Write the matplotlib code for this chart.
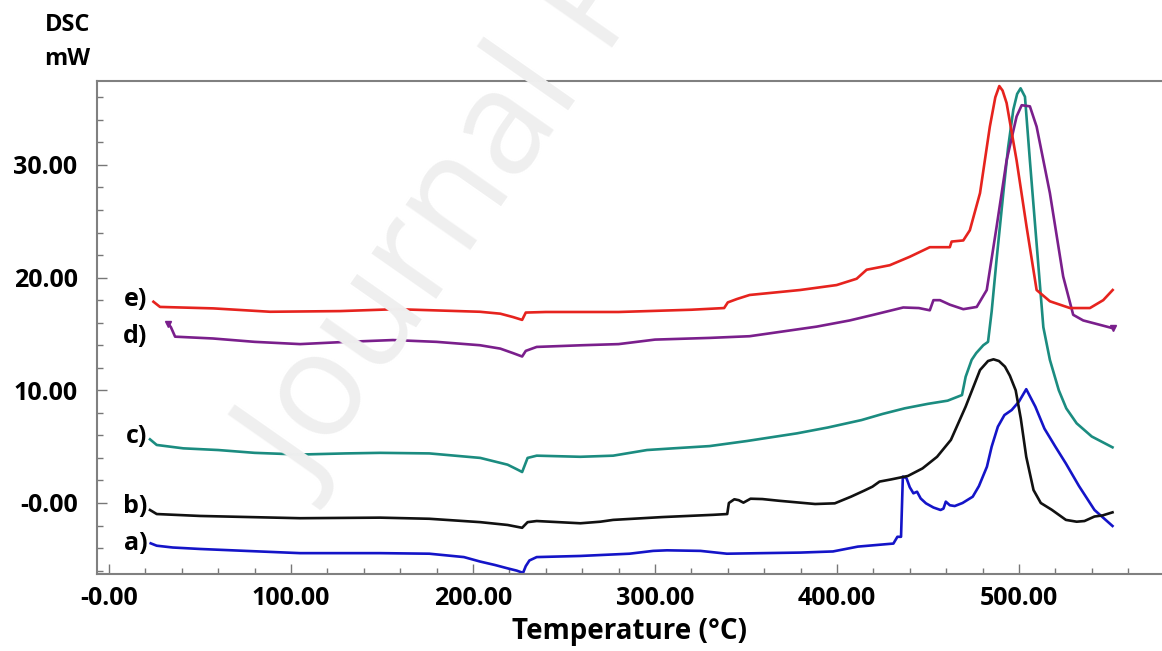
import matplotlib
matplotlib.use("Agg")
import matplotlib.pyplot as plt
from matplotlib.ticker import MultipleLocator

# --- data (temperature in degC, heat flow in mW) ---
temp_a = [22.9, 26.2, 35, 50, 75, 105, 130, 149, 176, 195, 204, 212, 219, 224, 227.5, 229, 231, 235,
          259, 286, 299, 306.6, 325, 339.5, 359, 380, 397.8, 411.5, 431, 433.2, 435.2, 436.2, 438.2,
          440, 442, 444, 446, 448.9, 453, 456.9, 458.5, 459.8, 462, 464.7, 469, 474.6, 478, 482.4,
          485, 488.4, 492, 496, 500, 504, 509, 514, 520, 525.8, 533, 541.5, 551.4]
dsc_a = [-3.58, -3.79, -3.95, -4.08, -4.25, -4.45, -4.45, -4.45, -4.5, -4.8, -5.2, -5.5, -5.8, -6.0,
         -6.2, -5.6, -5.1, -4.8, -4.7, -4.5, -4.25, -4.2, -4.25, -4.5, -4.45, -4.4, -4.3, -3.87, -3.6,
         -3.0, -3.0, 2.34, 2.2, 1.4, 0.86, 1.0, 0.4, -0.03, -0.4, -0.62, -0.5, 0.12, -0.2, -0.27, 0.0,
         0.56, 1.5, 3.22, 5.0, 6.77, 7.8, 8.25, 9.0, 10.1, 8.55, 6.6, 5.0, 3.5, 1.5, -0.62, -2.04]

temp_b = [22.5, 26.2, 50, 105, 149, 176, 204, 219, 227, 230, 235, 259, 270, 277, 304, 332, 339.7,
          340.6, 343.6, 346, 348.6, 352.5, 359, 368, 388, 398.8, 407.7, 415, 419.5, 423.4, 430, 439,
          447, 455, 462.6, 470.7, 478.6, 483, 486, 489, 492.3, 495, 498.2, 501, 504, 508, 512, 518,
          525.8, 531.7, 536, 541.5, 546, 551.4]
dsc_b = [-0.62, -0.98, -1.15, -1.35, -1.3, -1.4, -1.7, -1.95, -2.2, -1.7, -1.6, -1.8, -1.66, -1.5,
         -1.25, -1.05, -0.98, 0.0, 0.33, 0.25, 0.03, 0.38, 0.35, 0.2, -0.09, -0.03, 0.56, 1.1, 1.45,
         1.9, 2.1, 2.4, 3.07, 4.1, 5.6, 8.55, 11.8, 12.6, 12.75, 12.6, 12.1, 11.3, 10.0, 7.5, 4.1,
         1.15, 0.0, -0.6, -1.5, -1.66, -1.6, -1.2, -1.1, -0.83]

temp_c = [22.5, 26.2, 40.8, 60, 80, 105, 130, 149, 176, 204, 219, 224, 227, 230, 235, 259, 277,
          295.6, 310, 330, 350.5, 368.7, 378, 395, 413.5, 425, 437.2, 450, 460.8, 468.7, 470.7, 474,
          476.5, 480.4, 483, 485, 487.7, 491.4, 494, 496.9, 499, 500.9, 503.3, 506, 509.7, 513.4,
          517, 521.9, 526, 531.7, 540, 551.4]
dsc_c = [5.65, 5.15, 4.85, 4.7, 4.45, 4.3, 4.4, 4.45, 4.4, 4.0, 3.4, 3.0, 2.75, 4.0, 4.2, 4.1, 4.2,
         4.7, 4.85, 5.05, 5.5, 5.95, 6.18, 6.7, 7.36, 7.9, 8.4, 8.8, 9.08, 9.58, 11.2, 12.7, 13.3,
         14.0, 14.3, 17.0, 21.6, 27.5, 31.5, 34.9, 36.3, 36.8, 36.05, 30.4, 23.0, 15.6, 12.7, 10.0,
         8.4, 7.07, 5.9, 4.94]

temp_d = [32.6, 34, 36.3, 57, 80, 105, 130.6, 156, 180, 203.8, 215, 222, 227, 229, 235, 260, 280,
          300, 330, 352, 388.8, 407, 420, 436.4, 445, 451, 453, 456.6, 462, 469.4, 476.8, 482.3,
          487.7, 493.2, 498.7, 501.5, 506, 509.7, 517, 524.3, 529.8, 535.3, 551.8]
dsc_d = [15.9, 15.6, 14.76, 14.6, 14.3, 14.1, 14.3, 14.46, 14.3, 14.0, 13.7, 13.3, 13.0, 13.5, 13.85,
         14.0, 14.1, 14.5, 14.65, 14.8, 15.65, 16.2, 16.7, 17.35, 17.3, 17.1, 18.0, 18.0, 17.6, 17.2,
         17.4, 18.9, 24.5, 30.4, 34.3, 35.3, 35.2, 33.4, 27.5, 20.1, 16.7, 16.2, 15.5]

temp_e = [24.4, 28, 57.3, 88.5, 127, 158, 203.8, 215, 222, 227, 229, 240, 280, 320, 338, 340, 345,
          352, 379.7, 399.8, 410.8, 416.3, 429, 440, 451, 462, 463, 469.4, 473, 478.6, 484, 487,
          489.2, 491, 493.2, 498.7, 504.2, 509.7, 517, 528, 539, 546.3, 551.5]
dsc_e = [17.86, 17.4, 17.27, 16.97, 17.03, 17.2, 16.97, 16.8, 16.5, 16.25, 16.9, 16.95, 16.95, 17.15,
         17.3, 17.8, 18.1, 18.46, 18.9, 19.34, 19.9, 20.7, 21.1, 21.85, 22.7, 22.7, 23.2, 23.3, 24.2,
         27.5, 33.4, 36.0, 37.0, 36.6, 35.5, 30.4, 24.5, 18.9, 17.9, 17.3, 17.3, 18.0, 18.9]

series_names = ['a)', 'b)', 'c)', 'd)', 'e)']
series_colors = ['#1414c8', '#111111', '#1b8c80', '#7a1f8c', '#e6231e']
label_y = [-3.6, -0.27, 5.86, 14.8, 18.1]

x_ticks = [0, 100, 200, 300, 400, 500]
x_tick_labels = ['-0.00', '100.00', '200.00', '300.00', '400.00', '500.00']
y_ticks = [0, 10, 20, 30]
y_tick_labels = ['-0.00', '10.00', '20.00', '30.00']

plt.rcParams['font.family'] = ['Open Sans', 'DejaVu Sans']

fig = plt.figure(figsize=(11.62, 6.51), dpi=100)
ax = fig.add_axes([0.0835, 0.1183, 0.9165, 0.7573])

# faint watermark behind the curves (cut by the top edge, as in the source)
fig.text(0.268, 0.24, 'Journal Pre-proof', rotation=55, rotation_mode='anchor',
         ha='left', va='baseline', fontsize=105, color='#efefef', zorder=0)
ax.set_facecolor('none')

curves = [(temp_a, dsc_a), (temp_b, dsc_b), (temp_c, dsc_c), (temp_d, dsc_d), (temp_e, dsc_e)]
for (t, d), name, col, ly in zip(curves, series_names, series_colors, label_y):
    ax.plot(t, d, color=col, lw=1.9, solid_joinstyle='round')
    ax.text(21, ly, name, ha='right', va='center', fontsize=18, fontweight='bold')

# little end markers on curve d
ax.plot([temp_d[0], temp_d[-1]], [dsc_d[0], dsc_d[-1]], ls='none', marker='v',
        ms=5, color=series_colors[3])

ax.set_xlim(-6.6, 578.6)
ax.set_ylim(-6.3, 37.45)

ax.set_xticks(x_ticks, labels=x_tick_labels)
ax.set_yticks(y_ticks, labels=y_tick_labels)
ax.xaxis.set_minor_locator(MultipleLocator(20))
ax.yaxis.set_minor_locator(MultipleLocator(2))
for lab in ax.get_xticklabels() + ax.get_yticklabels():
    lab.set_fontweight('bold')
ax.tick_params(which='major', direction='in', length=7, width=1, color='#777777',
               labelsize=18, pad=9)
ax.tick_params(which='minor', direction='in', length=4, width=1, color='#777777')
ax.tick_params(axis='y', which='major', pad=14)

for side in ['left', 'top', 'bottom']:
    ax.spines[side].set_color('#808080')
    ax.spines[side].set_linewidth(1.5)
ax.spines['right'].set_visible(False)

ax.set_xlabel('Temperature (°C)', fontsize=20, fontweight='bold', labelpad=4)
fig.text(90 / 1162, 1 - 25 / 651, 'DSC', ha='right', va='center', fontsize=17, fontweight='bold')
fig.text(90 / 1162, 1 - 59 / 651, 'mW', ha='right', va='center', fontsize=17, fontweight='bold')

fig.savefig('out.png', dpi=100)
